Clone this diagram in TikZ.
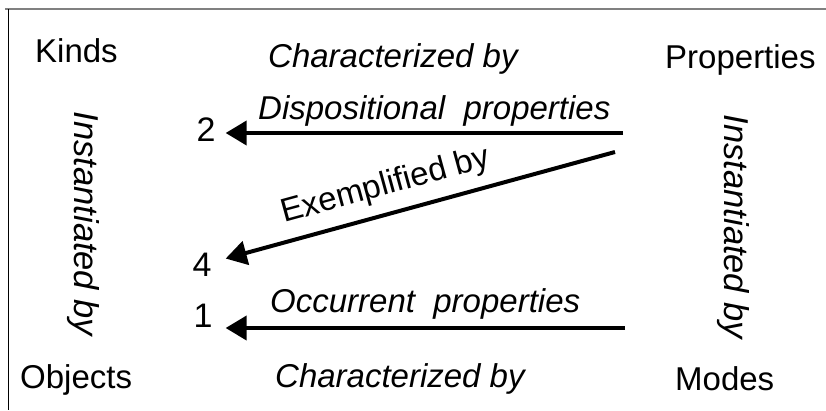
\documentclass[tikz,border=0pt]{standalone}
\usepackage{fontspec}
\setmainfont{Liberation Sans}
\usetikzlibrary{arrows.meta}
\begin{document}
\begin{tikzpicture}[x=1pt,y=-1pt,
  lbl/.style={font=\fontsize{33}{40}\selectfont, inner sep=0pt, anchor=base west},
  itl/.style={font=\fontsize{33}{40}\selectfont\itshape, inner sep=0pt, anchor=base west},
  num/.style={font=\fontsize{34}{40}\selectfont, inner ysep=0pt, inner xsep=10pt},
  arr/.style={line width=4pt, -{Triangle[length=21pt,width=24pt]}},
  arrbk/.style={line width=4pt, {Triangle[length=21pt,width=24pt]}-},
  vert/.style={font=\fontsize{34.5}{40}\selectfont\itshape, inner sep=0pt, rotate=-90}]
\useasboundingbox (0,0) rectangle (826,410);
\fill[white] (0,0) rectangle (826,410);
\draw[gray, line width=1.5pt] (5,9) -- (826,9);
\draw[black, line width=1pt] (8,9) -- (8,410);

\node[lbl] (kinds) at (35,62) {Kinds};
\node[itl] (chtop) at (268,67) {Characterized by};
\node[lbl] (props) at (665,68) {Properties};
\node[lbl] (objs) at (20,388) {Objects};
\node[itl] (chbot) at (275,387) {Characterized by};
\node[lbl] (modes) at (675,390) {Modes};

\node[itl] (disp) at (258,119) {Dispositional\ \ properties};
\node[itl] (occ) at (270,312) {Occurrent\ \ properties};

\node[num] (n2) at (206,130) {2};
\node[num, inner xsep=14pt] (n4) at (202,265) {4};
\node[num, inner xsep=13pt] (n1) at (203,316) {1};

\node[vert] (instl) at (83,224) {Instantiated by};
\node[vert] (instr) at (733,227) {Instantiated by};

\coordinate (ds) at (623,133);
\coordinate (es) at (615,152);
\coordinate (os) at (625,328);

\draw[arr] (ds) -- (ds -| n2.east);
\draw[arrbk] (n4) -- (es)
  node[sloped, pos=0.43, above=10pt, inner sep=0pt, font=\fontsize{33}{40}\selectfont] (ex) {Exemplified by};
\draw[arr] (os) -- (os -| n1.east);
\end{tikzpicture}
\end{document}
